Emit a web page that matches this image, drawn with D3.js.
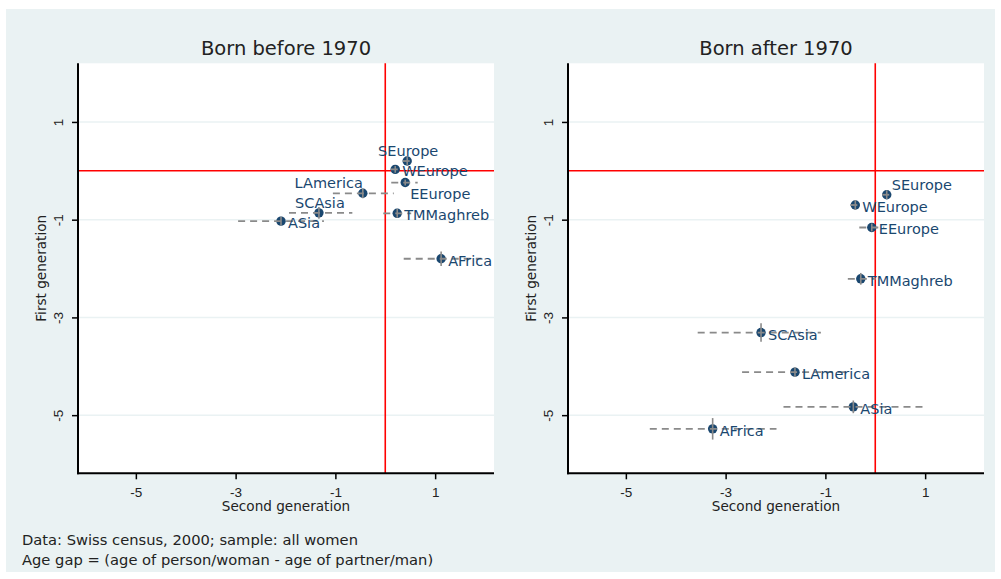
<!DOCTYPE html>
<html>
<head>
<meta charset="utf-8">
<script src="https://cdn.jsdelivr.net/npm/d3@7.9.0/dist/d3.min.js"></script>
<style>
  body { margin: 0; background: #fff; }
  svg { display: block; font-family: "DejaVu Sans", sans-serif; }
</style>
</head>
<body>
<div id="chart"></div>
<script>
// data
const countries = ["SEurope", "WEurope", "EEurope", "LAmerica", "SCAsia", "ASia", "TMMaghreb", "AFrica"];

// born before 1970: second generation (x) and first generation (y) age gaps, with intervals
const beforeX   = [0.44, 0.20, 0.40, -0.45, -1.33, -2.09, 0.24, 1.12];
const beforeXlo = [0.35, 0.11, 0.12, -1.05, -1.93, -2.95, -0.04, 0.37];
const beforeXhi = [0.53, 0.29, 0.65, 0.17, -0.66, -1.23, 0.52, 1.93];
const beforeY   = [0.20, 0.03, -0.24, -0.46, -0.86, -1.03, -0.87, -1.80];
const beforeYlo = [0.12, -0.04, -0.30, -0.56, -0.98, -1.12, -0.96, -1.95];
const beforeYhi = [0.28, 0.10, -0.18, -0.36, -0.74, -0.94, -0.78, -1.65];

// born after 1970
const afterX   = [0.23, -0.40, -0.07, -1.61, -2.29, -0.44, -0.29, -3.26];
const afterXlo = [0.14, -0.50, -0.32, -2.67, -3.56, -1.84, -0.55, -4.52];
const afterXhi = [0.32, -0.31, 0.18, -0.55, -1.09, 0.98, 0.01, -1.98];
const afterY   = [-0.49, -0.70, -1.16, -4.12, -3.31, -4.83, -2.21, -5.28];
const afterYlo = [-0.58, -0.80, -1.24, -4.22, -3.50, -4.96, -2.33, -5.50];
const afterYhi = [-0.40, -0.60, -1.08, -4.02, -3.12, -4.70, -2.09, -5.06];

const xTicks = [-5, -3, -1, 1];
const yTicks = [1, -1, -3, -5];
const panelTitles = ["Born before 1970", "Born after 1970"];
const xTitle = "Second generation";
const yTitle = "First generation";
const notes = ["Data: Swiss census, 2000; sample: all women",
               "Age gap = (age of person/woman - age of partner/man)"];

// label placement (clock position, like mlabvposition)
const labelClock = [
  { SEurope: 12, WEurope: 3, EEurope: 4, LAmerica: 11, SCAsia: 12, ASia: 3, TMMaghreb: 3, AFrica: 3 },
  { SEurope: 1, WEurope: 3, EEurope: 3, LAmerica: 3, SCAsia: 3, ASia: 3, TMMaghreb: 3, AFrica: 3 }
];

const width = 1001, height = 579;
const navy = "#1a476f", ciGray = "#8a8a8a";
const plotW = 416, plotH = 410, plotTop = 63.3;
const panelLeft = [78, 568];

const svg = d3.select("#chart").append("svg")
  .attr("width", width).attr("height", height);

svg.append("rect")
  .attr("x", 6).attr("y", 9).attr("width", 989).attr("height", 563)
  .attr("fill", "#eaf2f3");

const x = d3.scaleLinear().domain([-6.16, 2.18]).range([0, plotW]);
const y = d3.scaleLinear().domain([-6.19, 2.2]).range([plotH, 0]);

const panels = [
  { x: beforeX, xlo: beforeXlo, xhi: beforeXhi, y: beforeY, ylo: beforeYlo, yhi: beforeYhi },
  { x: afterX, xlo: afterXlo, xhi: afterXhi, y: afterY, ylo: afterYlo, yhi: afterYhi }
];

const offsets = {
  3:  { dx: 7, dy: 7, anchor: "start" },
  4:  { dx: 5, dy: 16, anchor: "start" },
  12: { dx: 1, dy: -5, anchor: "middle" },
  11: { dx: 0, dy: -5, anchor: "end" },
  1:  { dx: 5, dy: -5, anchor: "start" }
};

const fmt = d => String(d);  // plain hyphen, as in the original

panels.forEach((p, k) => {
  const rows = countries.map((c, i) => ({
    name: c, x: p.x[i], xlo: p.xlo[i], xhi: p.xhi[i], y: p.y[i], ylo: p.ylo[i], yhi: p.yhi[i]
  }));

  const g = svg.append("g").attr("transform", `translate(${panelLeft[k]},${plotTop})`);

  g.append("rect").attr("width", plotW).attr("height", plotH).attr("fill", "#fff");

  // horizontal grid
  g.selectAll(".grid").data(yTicks).enter().append("line")
    .attr("x1", 0).attr("x2", plotW)
    .attr("y1", d => y(d)).attr("y2", d => y(d))
    .attr("stroke", "#eaf2f3").attr("stroke-width", 1.5);

  // reference lines at zero
  g.append("line")
    .attr("x1", 0).attr("x2", plotW).attr("y1", y(0)).attr("y2", y(0))
    .attr("stroke", "#ff0000").attr("stroke-width", 1.6);
  g.append("line")
    .attr("x1", x(0)).attr("x2", x(0)).attr("y1", 0).attr("y2", plotH)
    .attr("stroke", "#ff0000").attr("stroke-width", 1.6);

  // markers
  g.selectAll(".pt").data(rows).enter().append("circle")
    .attr("cx", d => x(d.x)).attr("cy", d => y(d.y)).attr("r", 4.7)
    .attr("fill", navy);

  // intervals drawn over the markers
  g.selectAll(".hci").data(rows).enter().append("line")
    .attr("x1", d => x(d.xlo)).attr("x2", d => x(d.xhi))
    .attr("y1", d => y(d.y)).attr("y2", d => y(d.y))
    .attr("stroke", ciGray).attr("stroke-width", 1.8)
    .attr("stroke-dasharray", "7,5");
  g.selectAll(".vci").data(rows).enter().append("line")
    .attr("x1", d => x(d.x)).attr("x2", d => x(d.x))
    .attr("y1", d => y(d.ylo)).attr("y2", d => y(d.yhi))
    .attr("stroke", ciGray).attr("stroke-width", 1.6);

  // labels
  g.selectAll(".lab").data(rows).enter().append("text")
    .attr("x", d => x(d.x) + offsets[labelClock[k][d.name]].dx)
    .attr("y", d => y(d.y) + offsets[labelClock[k][d.name]].dy)
    .attr("text-anchor", d => offsets[labelClock[k][d.name]].anchor)
    .attr("fill", navy).style("font-size", "14.5px")
    .text(d => d.name);

  // axes
  const xAxis = g.append("g").attr("transform", `translate(0,${plotH})`)
    .call(d3.axisBottom(x).tickValues(xTicks).tickFormat(fmt).tickSize(6).tickPadding(8).tickSizeOuter(0));
  const yAxis = g.append("g")
    .call(d3.axisLeft(y).tickValues(yTicks).tickFormat(fmt).tickSize(6).tickSizeOuter(0));
  [xAxis, yAxis].forEach(a => {
    a.select(".domain").attr("stroke", "#000").attr("stroke-width", 2);
    a.selectAll(".tick line").attr("stroke", "#000").attr("stroke-width", 1.5);
    a.selectAll("text").attr("fill", "#222").style("font-size", "13.5px").attr("font-family", null);
  });
  xAxis.select(".domain").attr("d", `M-1,0H${plotW}`);
  yAxis.select(".domain").attr("d", `M0,0V${plotH + 1}`);
  yAxis.selectAll(".tick text")
    .attr("x", null).attr("dy", null)
    .attr("transform", "translate(-15,0) rotate(-90)")
    .attr("text-anchor", "middle");

  // titles
  g.append("text")
    .attr("x", plotW / 2).attr("y", -8)
    .attr("text-anchor", "middle").attr("fill", "#222")
    .style("font-size", "19.5px")
    .text(panelTitles[k]);
  g.append("text")
    .attr("x", plotW / 2).attr("y", plotH + 38)
    .attr("text-anchor", "middle").attr("fill", "#222")
    .style("font-size", "13.6px")
    .text(xTitle);
  g.append("text")
    .attr("transform", `translate(-32,${plotH / 2}) rotate(-90)`)
    .attr("text-anchor", "middle").attr("fill", "#222")
    .style("font-size", "13.6px")
    .text(yTitle);
});

svg.selectAll(".note").data(notes).enter().append("text")
  .attr("x", 22).attr("y", (d, i) => 545 + i * 20)
  .attr("fill", "#222").style("font-size", "14.7px")
  .text(d => d);
</script>
</body>
</html>
